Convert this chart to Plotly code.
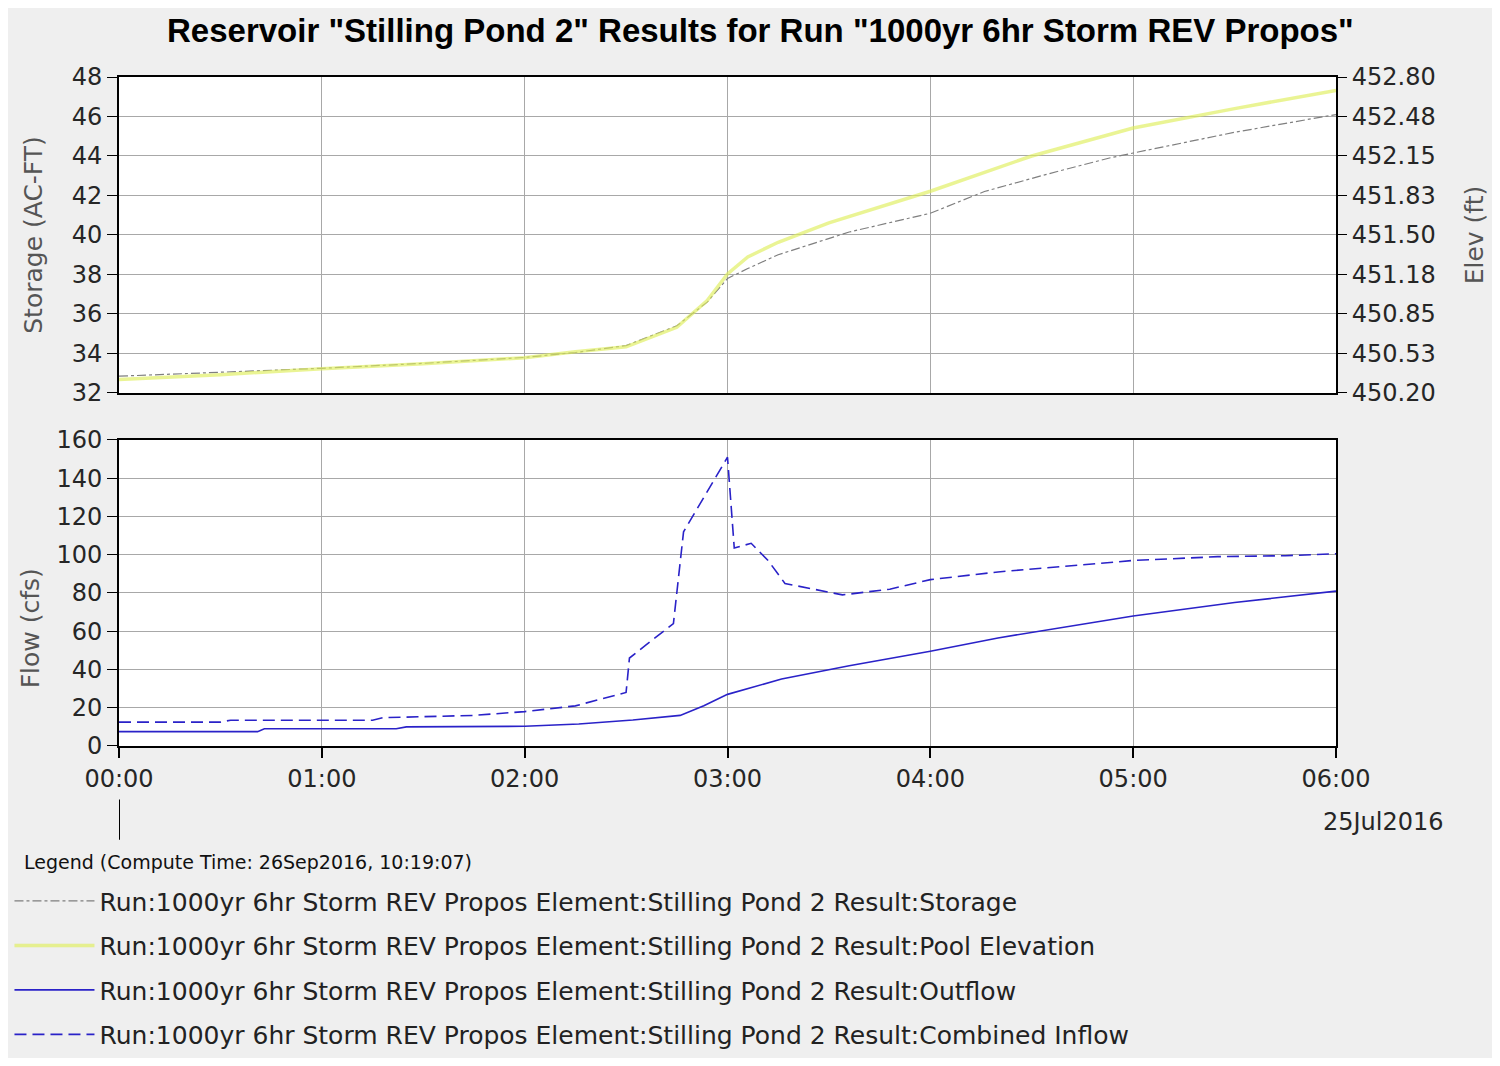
import plotly.graph_objects as go

# ---- data (hours after 25Jul2016 00:00) ----
stor_hr = [0.0, 0.5, 1.0, 1.5, 2.0, 2.25, 2.5, 2.75, 2.9, 3.0, 3.1, 3.25, 3.5, 3.6, 4.0, 4.26, 4.59, 4.89, 5.0, 5.5, 6.0]
storage = [32.85, 33.05, 33.25, 33.5, 33.8, 34.05, 34.4, 35.4, 36.6, 37.8, 38.3, 39.0, 39.8, 40.15, 41.1, 42.2, 43.1, 43.9, 44.15, 45.2, 46.1]

elev_hr = [0.0, 0.5, 1.0, 1.5, 2.0, 2.25, 2.5, 2.75, 2.9, 3.0, 3.1, 3.25, 3.5, 4.0, 4.5, 5.0, 5.5, 6.0]
pool_elev = [450.31, 450.35, 450.40, 450.44, 450.49, 450.54, 450.58, 450.74, 450.96, 451.18, 451.32, 451.44, 451.60, 451.86, 452.15, 452.38, 452.54, 452.69]

out_hr = [0.0, 0.68, 0.72, 1.37, 1.41, 2.0, 2.26, 2.54, 2.77, 2.88, 3.0, 3.27, 3.6, 4.0, 4.34, 5.0, 5.5, 6.0]
outflow = [7.5, 7.5, 9.0, 9.0, 10.0, 10.3, 11.5, 13.6, 16.0, 21.0, 27.0, 35.0, 42.0, 49.5, 56.5, 68.0, 75.0, 81.0]

in_hr = [0.0, 0.5, 0.55, 1.25, 1.3, 1.75, 2.0, 2.25, 2.5, 2.52, 2.6, 2.74, 2.78, 2.86, 3.0, 3.03, 3.11, 3.2, 3.29, 3.57, 3.8, 4.0, 4.34, 5.0, 5.41, 5.75, 6.0]
inflow = [12.5, 12.5, 13.5, 13.5, 14.8, 16.0, 18.0, 21.0, 28.0, 46.0, 53.0, 64.0, 112.0, 127.0, 151.0, 103.5, 106.0, 97.0, 85.0, 79.0, 82.0, 87.0, 91.0, 97.0, 99.0, 99.5, 100.5]

stor_ticks = [32, 34, 36, 38, 40, 42, 44, 46, 48]
elev_ticks = ["450.20", "450.53", "450.85", "451.18", "451.50", "451.83", "452.15", "452.48", "452.80"]
flow_ticks = [0, 20, 40, 60, 80, 100, 120, 140, 160]
hour_labels = ["00:00", "01:00", "02:00", "03:00", "04:00", "05:00", "06:00"]

title = 'Reservoir "Stilling Pond 2" Results for Run "1000yr 6hr Storm REV Propos"'
legend_title = "Legend (Compute Time: 26Sep2016, 10:19:07)"
prefix = "Run:1000yr 6hr Storm REV Propos Element:Stilling Pond 2 Result:"
names = [prefix + "Storage", prefix + "Pool Elevation", prefix + "Outflow", prefix + "Combined Inflow"]


def ts(hrs):
    out = []
    for h in hrs:
        m = int(round(h * 60))
        out.append("2016-07-25 %02d:%02d" % (m // 60, m % 60))
    return out


FONT = "DejaVu Sans"
fig = go.Figure()

fig.add_trace(go.Scatter(x=ts(stor_hr), y=storage, mode="lines", name=names[0], legendgroup="a",
                         line=dict(color="#7f7f7f", width=1.2, dash="dashdot"), xaxis="x", yaxis="y"))
fig.add_trace(go.Scatter(x=ts(elev_hr), y=pool_elev, mode="lines", name=names[1], legendgroup="b",
                         line=dict(color="rgba(222,238,90,0.65)", width=3.5), xaxis="x", yaxis="y3"))
fig.add_trace(go.Scatter(x=ts(out_hr), y=outflow, mode="lines", name=names[2], legendgroup="c",
                         line=dict(color="#2a22c8", width=1.6), xaxis="x2", yaxis="y2"))
fig.add_trace(go.Scatter(x=ts(in_hr), y=inflow, mode="lines", name=names[3], legendgroup="d",
                         line=dict(color="#2a22c8", width=1.6, dash="12px,6px"), xaxis="x2", yaxis="y2"))

xr = ["2016-07-25 00:00", "2016-07-25 06:00"]
tickv = ts([0, 1, 2, 3, 4, 5, 6])
axcommon = dict(showline=True, linecolor="black", linewidth=2, mirror=True,
                gridcolor="#a8a8a8", gridwidth=1, zeroline=False)
tickfont = dict(family=FONT, size=24, color="#262626")
titlefont = dict(family=FONT, size=25, color="#555555")

fig.update_layout(
    width=1484, height=1050,
    paper_bgcolor="#efefef", plot_bgcolor="white",
    margin=dict(l=111, r=156, t=69, b=312, autoexpand=False),
    title=dict(text=title, x=0.507, xref="container", y=0.979, yanchor="middle",
               font=dict(family="Liberation Sans", size=33, color="black", weight="bold")),
    xaxis=dict(type="date", range=xr, domain=[0, 1], anchor="y", tickvals=tickv,
               showticklabels=False, ticks="", **axcommon),
    xaxis2=dict(type="date", range=xr, domain=[0, 1], anchor="y2", tickvals=tickv, ticktext=hour_labels,
                ticks="outside", ticklen=10, tickcolor="black", tickwidth=2, tickfont=tickfont, **axcommon),
    yaxis=dict(domain=[0.5277, 1], range=[32, 48], tickvals=stor_ticks, ticks="outside", ticklen=10,
               tickcolor="black", tickfont=tickfont, title=dict(text="Storage (AC-FT)", font=titlefont, standoff=22),
               **axcommon),
    yaxis3=dict(overlaying="y", side="right", anchor="x", range=[450.2, 452.8],
                tickvals=[450.2 + 0.325 * i for i in range(9)], ticktext=elev_ticks,
                ticks="outside", ticklen=10, tickcolor="black", tickfont=tickfont, showgrid=False,
                showline=False, zeroline=False,
                title=dict(text="Elev (ft)", font=titlefont, standoff=30)),
    yaxis2=dict(domain=[0, 0.4574], range=[0, 160], tickvals=flow_ticks, ticks="outside", ticklen=10,
                tickcolor="black", tickfont=tickfont, **axcommon),
    showlegend=True,
    legend=dict(x=-0.090, y=-0.1975, xanchor="left", yanchor="top", orientation="v",
                bgcolor="rgba(0,0,0,0)", itemwidth=80, tracegroupgap=9,
                font=dict(family=FONT, size=25, color="#222222")),
)

# flow axis title (sits below the panel centre in the original)
fig.add_annotation(text="Flow (cfs)", xref="paper", yref="paper", x=-0.0731, y=0.176,
                   textangle=-90, showarrow=False, xanchor="center", yanchor="middle", font=titlefont)
# legend heading
fig.add_annotation(text=legend_title, xref="paper", yref="paper", x=(22 - 119) / 1217, y=-(862 - 746) / 669,
                   xanchor="left", yanchor="middle", showarrow=False,
                   font=dict(family=FONT, size=19, color="#111111"))
fig.add_annotation(text="25Jul2016", xref="paper", yref="paper", x=1.09, y=-0.113,
                   xanchor="right", yanchor="middle", showarrow=False, font=tickfont)
fig.add_shape(type="line", xref="x2", yref="paper", x0=xr[0], x1=xr[0], y0=-0.08, y1=-0.14,
              line=dict(color="black", width=2))

fig.write_html("out.html")
